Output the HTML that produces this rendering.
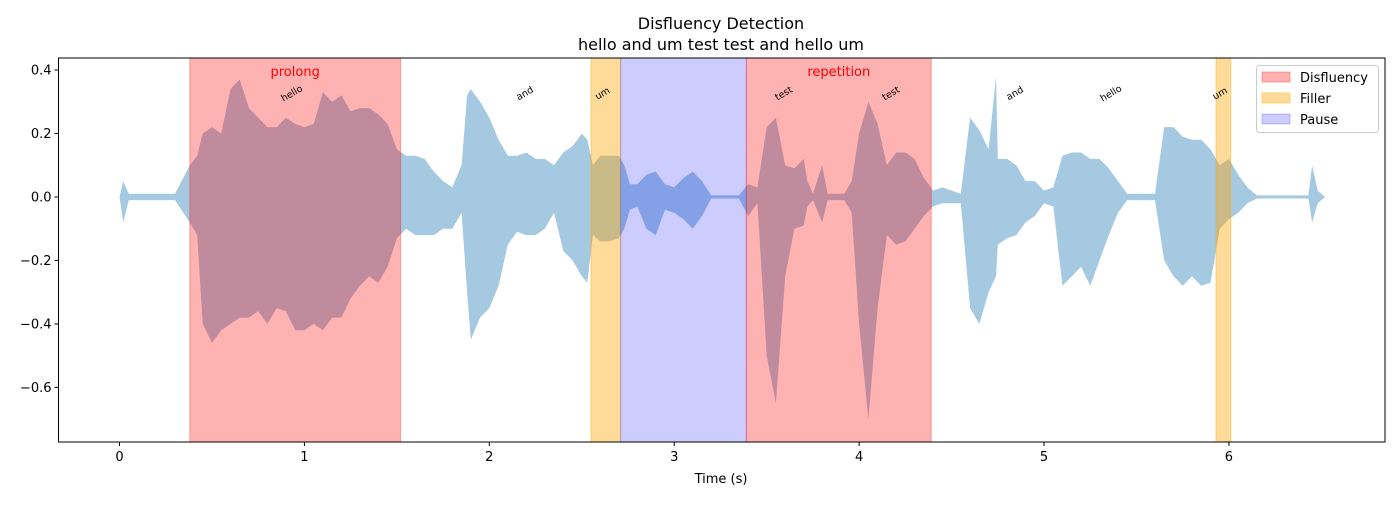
<!DOCTYPE html>
<html><head><meta charset="utf-8"><style>
html,body{margin:0;padding:0;background:#fff;}
svg text{font-family:"DejaVu Sans","Liberation Sans",sans-serif;}
</style></head><body>
<svg id="chart" width="1400" height="500" xmlns="http://www.w3.org/2000/svg">
<rect width="1400" height="500" fill="#fff"/>
<text x="721" y="29" font-size="16" text-anchor="middle">Disfluency Detection</text>
<text x="721" y="50" font-size="16" text-anchor="middle">hello and um test test and hello um</text>
<g id="plot"></g>
<text x="721" y="483" font-size="13" text-anchor="middle">Time (s)</text>
<g>
<rect x="1256.5" y="65.5" width="122" height="67" rx="3" fill="#fff" fill-opacity="0.8" stroke="#ccc"/>
<rect x="1262" y="72" width="28" height="10" fill="#ff0000" fill-opacity="0.3" stroke="#ff0000" stroke-opacity="0.3"/>
<text x="1300" y="82" font-size="13">Disfluency</text>
<rect x="1262" y="93" width="28" height="10" fill="#ffa500" fill-opacity="0.4" stroke="#ffa500" stroke-opacity="0.4"/>
<text x="1300" y="103" font-size="13">Filler</text>
<rect x="1262" y="114" width="28" height="10" fill="#0000ff" fill-opacity="0.2" stroke="#0000ff" stroke-opacity="0.2"/>
<text x="1300" y="124" font-size="13">Pause</text>
</g>
</svg>
<script>
const envTimes=[0,0.02,0.05,0.3,0.38,0.42,0.45,0.5,0.55,0.6,0.65,0.7,0.75,0.8,0.85,0.9,0.95,1.0,1.05,1.1,1.15,1.2,1.25,1.3,1.35,1.4,1.45,1.5,1.55,1.6,1.65,1.7,1.75,1.8,1.85,1.88,1.9,1.95,2.0,2.05,2.1,2.15,2.2,2.25,2.3,2.35,2.4,2.45,2.5,2.53,2.56,2.6,2.65,2.7,2.73,2.76,2.8,2.85,2.9,2.95,3.0,3.05,3.1,3.15,3.2,3.35,3.4,3.45,3.5,3.55,3.6,3.65,3.7,3.72,3.75,3.8,3.83,3.92,3.96,4.0,4.05,4.1,4.15,4.2,4.25,4.3,4.35,4.4,4.45,4.55,4.6,4.65,4.7,4.74,4.75,4.8,4.85,4.9,4.95,5.0,5.05,5.1,5.15,5.2,5.25,5.3,5.35,5.4,5.45,5.6,5.65,5.7,5.75,5.8,5.85,5.9,5.95,6.0,6.05,6.1,6.15,6.43,6.45,6.48,6.52];
const envUpper=[0,0.05,0.01,0.01,0.1,0.13,0.2,0.22,0.2,0.34,0.37,0.28,0.25,0.22,0.22,0.25,0.23,0.22,0.23,0.33,0.3,0.32,0.27,0.28,0.28,0.26,0.23,0.15,0.13,0.13,0.12,0.08,0.05,0.03,0.1,0.32,0.34,0.3,0.25,0.18,0.13,0.13,0.14,0.12,0.12,0.1,0.14,0.16,0.2,0.18,0.1,0.13,0.13,0.13,0.1,0.04,0.04,0.07,0.08,0.04,0.03,0.06,0.08,0.05,0.005,0.005,0.04,0.03,0.22,0.25,0.1,0.09,0.12,0.05,0.01,0.1,0.01,0.01,0.05,0.2,0.3,0.23,0.1,0.14,0.14,0.12,0.06,0.02,0.03,0.01,0.25,0.21,0.15,0.38,0.12,0.12,0.1,0.05,0.05,0.02,0.03,0.13,0.14,0.14,0.12,0.12,0.09,0.05,0.01,0.01,0.22,0.22,0.19,0.18,0.18,0.15,0.1,0.12,0.07,0.03,0.005,0.005,0.1,0.02,0];
const envLower=[0,-0.08,-0.01,-0.01,-0.08,-0.12,-0.4,-0.46,-0.42,-0.4,-0.38,-0.38,-0.36,-0.4,-0.35,-0.36,-0.42,-0.42,-0.4,-0.42,-0.38,-0.38,-0.32,-0.28,-0.25,-0.27,-0.22,-0.13,-0.1,-0.12,-0.12,-0.12,-0.1,-0.1,-0.05,-0.3,-0.45,-0.38,-0.35,-0.28,-0.15,-0.11,-0.12,-0.12,-0.1,-0.05,-0.17,-0.2,-0.25,-0.27,-0.12,-0.14,-0.14,-0.13,-0.1,-0.04,-0.03,-0.1,-0.12,-0.04,-0.05,-0.07,-0.1,-0.06,-0.005,-0.005,-0.06,-0.02,-0.5,-0.65,-0.25,-0.1,-0.09,-0.03,-0.01,-0.08,-0.01,-0.01,-0.05,-0.4,-0.7,-0.35,-0.12,-0.15,-0.14,-0.1,-0.06,-0.03,-0.02,-0.02,-0.35,-0.4,-0.3,-0.25,-0.15,-0.13,-0.12,-0.08,-0.06,-0.02,-0.03,-0.28,-0.25,-0.22,-0.28,-0.2,-0.12,-0.05,-0.01,-0.01,-0.2,-0.25,-0.28,-0.25,-0.28,-0.27,-0.1,-0.07,-0.05,-0.02,-0.005,-0.005,-0.08,-0.02,0];
const spanStarts=[0.38,2.55,2.71,3.39,5.93];
const spanEnds=[1.52,2.71,3.39,4.39,6.01];
const spanTypes=["disfluency","filler","pause","disfluency","filler"];
const spanLabels=["prolong","","","repetition",""];
const wordTexts=["hello","and","um","test","test","and","hello","um"];
const wordTimes=[0.94,2.2,2.62,3.6,4.18,4.85,5.37,5.96];
const xTicks=[0,1,2,3,4,5,6];
const yTicks=[0.4,0.2,0.0,-0.2,-0.4,-0.6];
const xMin=-0.33,xMax=6.844,yMin=-0.772,yMax=0.4378;
const L=58.5,R=1385,T=58,B=442;
const sx=t=>L+(t-xMin)/(xMax-xMin)*(R-L);
const sy=v=>B-(v-yMin)/(yMax-yMin)*(B-T);
const NS="http://www.w3.org/2000/svg";
const plot=document.getElementById('plot');
function mk(tag,attrs,parent){const e=document.createElementNS(NS,tag);for(const k in attrs)e.setAttribute(k,attrs[k]);(parent||plot).appendChild(e);return e;}
let pts=[];
for(let i=0;i<envTimes.length;i++)pts.push(sx(envTimes[i]).toFixed(1)+','+sy(envUpper[i]).toFixed(1));
for(let i=envTimes.length-1;i>=0;i--)pts.push(sx(envTimes[i]).toFixed(1)+','+sy(envLower[i]).toFixed(1));
const wave=mk('polygon',{points:pts.join(' '),fill:'#1f77b4','fill-opacity':'0.4'});


const spanCol={disfluency:['#ff0000',0.3],filler:['#ffa500',0.4],pause:['#0000ff',0.2]};
for(let i=0;i<spanStarts.length;i++){
 const c=spanCol[spanTypes[i]];
 const r=mk('rect',{x:sx(spanStarts[i]),y:T,width:sx(spanEnds[i])-sx(spanStarts[i]),height:B-T,fill:c[0],'fill-opacity':c[1],stroke:c[0],'stroke-opacity':c[1]});
 
 
 if(spanLabels[i]){
  const t=mk('text',{x:(sx(spanStarts[i])+sx(spanEnds[i]))/2,y:76,'font-size':13,fill:'#ff0000','text-anchor':'middle'});
  t.textContent=spanLabels[i];
  
  
 }
}
for(let i=0;i<wordTexts.length;i++){
 const x=sx(wordTimes[i]),y=96;
 const t=mk('text',{x:x,y:y,'font-size':9.5,'text-anchor':'middle',transform:`rotate(-30 ${x} ${y})`});
 t.textContent=wordTexts[i];
 
 
}
const fr=mk('rect',{x:L,y:T,width:R-L,height:B-T,fill:'none',stroke:'#000','stroke-width':1});


for(const v of xTicks){
 const x=sx(v);
 const l=mk('line',{x1:x,x2:x,y1:B,y2:B+4,stroke:'#000'});
 
 
 const t=mk('text',{x:x,y:B+19,'font-size':13,'text-anchor':'middle'});
 t.textContent=String(v);
 
 
}
for(const v of yTicks){
 const y=sy(v);
 const l=mk('line',{x1:L-4,x2:L,y1:y,y2:y,stroke:'#000'});
 
 
 const t=mk('text',{x:L-7,y:y+4.5,'font-size':13,'text-anchor':'end'});
 t.textContent=(v<0?'\u2212':'')+Math.abs(v).toFixed(1);
 
 
}
</script>
</body></html>
